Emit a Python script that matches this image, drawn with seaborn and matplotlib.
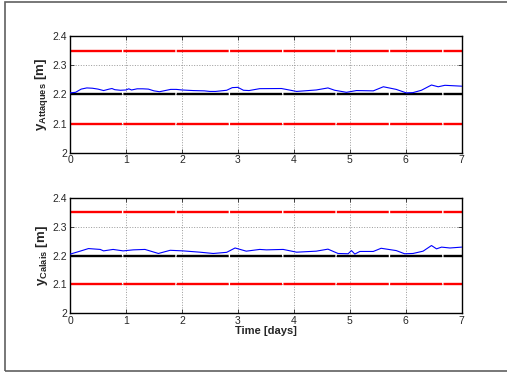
import matplotlib
matplotlib.use("Agg")
import matplotlib.pyplot as plt
import matplotlib.patches as mpatches
import seaborn as sns

# blue series (time in days, level in m)
t_attaques = [0.0, 0.1, 0.2, 0.3, 0.4, 0.5, 0.6, 0.7, 0.75, 0.8, 0.9, 1.0, 1.05, 1.1, 1.2, 1.3,
              1.4, 1.5, 1.6, 1.7, 1.8, 1.9, 2.0, 2.2, 2.4, 2.5, 2.6, 2.7, 2.8, 2.9, 3.0, 3.1,
              3.2, 3.39, 3.78, 4.05, 4.4, 4.61, 4.73, 4.94, 5.12, 5.42, 5.6, 5.83, 6.01, 6.13,
              6.28, 6.46, 6.58, 6.7, 7.0]
y_attaques = [2.205, 2.207, 2.218, 2.222, 2.221, 2.218, 2.213, 2.218, 2.220, 2.216, 2.214, 2.215,
              2.219, 2.215, 2.219, 2.219, 2.218, 2.212, 2.209, 2.213, 2.217, 2.217, 2.215, 2.213,
              2.212, 2.210, 2.210, 2.212, 2.214, 2.223, 2.224, 2.214, 2.213, 2.2195, 2.220, 2.210,
              2.215, 2.222, 2.214, 2.207, 2.213, 2.212, 2.226, 2.217, 2.205, 2.206, 2.214, 2.232,
              2.226, 2.231, 2.228]

t_calais = [0.0, 0.18, 0.33, 0.54, 0.6, 0.77, 0.95, 1.13, 1.34, 1.58, 1.79, 2.02, 2.32, 2.56,
            2.8, 2.95, 3.15, 3.39, 3.51, 3.81, 4.05, 4.4, 4.61, 4.79, 4.97, 5.03, 5.09, 5.18,
            5.42, 5.56, 5.83, 5.98, 6.13, 6.31, 6.46, 6.55, 6.64, 6.79, 7.0]
y_calais = [2.2046, 2.215, 2.224, 2.221, 2.216, 2.221, 2.216, 2.2195, 2.221, 2.207, 2.218, 2.216,
            2.2115, 2.207, 2.211, 2.226, 2.215, 2.221, 2.2195, 2.221, 2.2115, 2.215, 2.222, 2.207,
            2.206, 2.217, 2.205, 2.214, 2.214, 2.225, 2.217, 2.206, 2.207, 2.215, 2.2345, 2.223,
            2.229, 2.226, 2.229]

limits_red = [2.35, 2.1]
reference = 2.2

xticks = [0, 1, 2, 3, 4, 5, 6, 7]
yticks = [2.0, 2.1, 2.2, 2.3, 2.4]
ytick_labels = ['2', '2.1', '2.2', '2.3', '2.4']

sns.set_style("ticks")
plt.rcParams['font.family'] = ['Liberation Sans', 'DejaVu Sans']
plt.rcParams['mathtext.fontset'] = 'custom'
plt.rcParams['mathtext.rm'] = 'Liberation Sans:bold'
plt.rcParams['mathtext.it'] = 'Liberation Sans:bold'
plt.rcParams['mathtext.bf'] = 'Liberation Sans:bold'

fig = plt.figure(figsize=(5.07, 3.73), dpi=100)
W, H = 507, 373
fig.patches.append(mpatches.Rectangle((5 / W, 2 / H), 1.2, 369 / H, transform=fig.transFigure,
                                      fill=False, edgecolor='#606060', lw=1.2))

ax1 = fig.add_axes([70 / W, 1 - 152.7 / H, 391.7 / W, 116.7 / H])
ax2 = fig.add_axes([70 / W, 1 - 313.3 / H, 391.7 / W, 115.6 / H])

panels = [(ax1, t_attaques, y_attaques, r'$\mathbf{y}_{\mathbf{Attaques}}$ [m]'),
          (ax2, t_calais, y_calais, r'$\mathbf{y}_{\mathbf{Calais}}$ [m]')]

for ax, t, y, lab in panels:
    for v in limits_red:
        ax.axhline(v, color='red', lw=1.7, dashes=(22, 0.6), zorder=2)
    ax.axhline(reference, color='black', lw=1.7, dashes=(22, 0.6), zorder=2)
    sns.lineplot(x=t, y=y, ax=ax, color='blue', lw=0.8, zorder=3)
    ax.set_xlim(0, 7)
    ax.set_ylim(2.0, 2.4)
    ax.set_xticks(xticks)
    ax.set_yticks(yticks)
    ax.set_yticklabels(ytick_labels)
    ax.grid(True, ls=':', color='#999999', lw=0.7)
    ax.tick_params(direction='in', length=3, width=0.6, labelsize=7.5, pad=2,
                   top=True, right=True)
    for s in ax.spines.values():
        s.set_linewidth(1.0)
        s.set_color('black')
    ax.set_ylabel(lab, fontsize=9.5, fontweight='bold', labelpad=2)
    ax.set_xlabel('')

ax2.set_xlabel('Time [days]', fontsize=8, fontweight='bold', labelpad=0)

fig.savefig('out.png', dpi=100)
